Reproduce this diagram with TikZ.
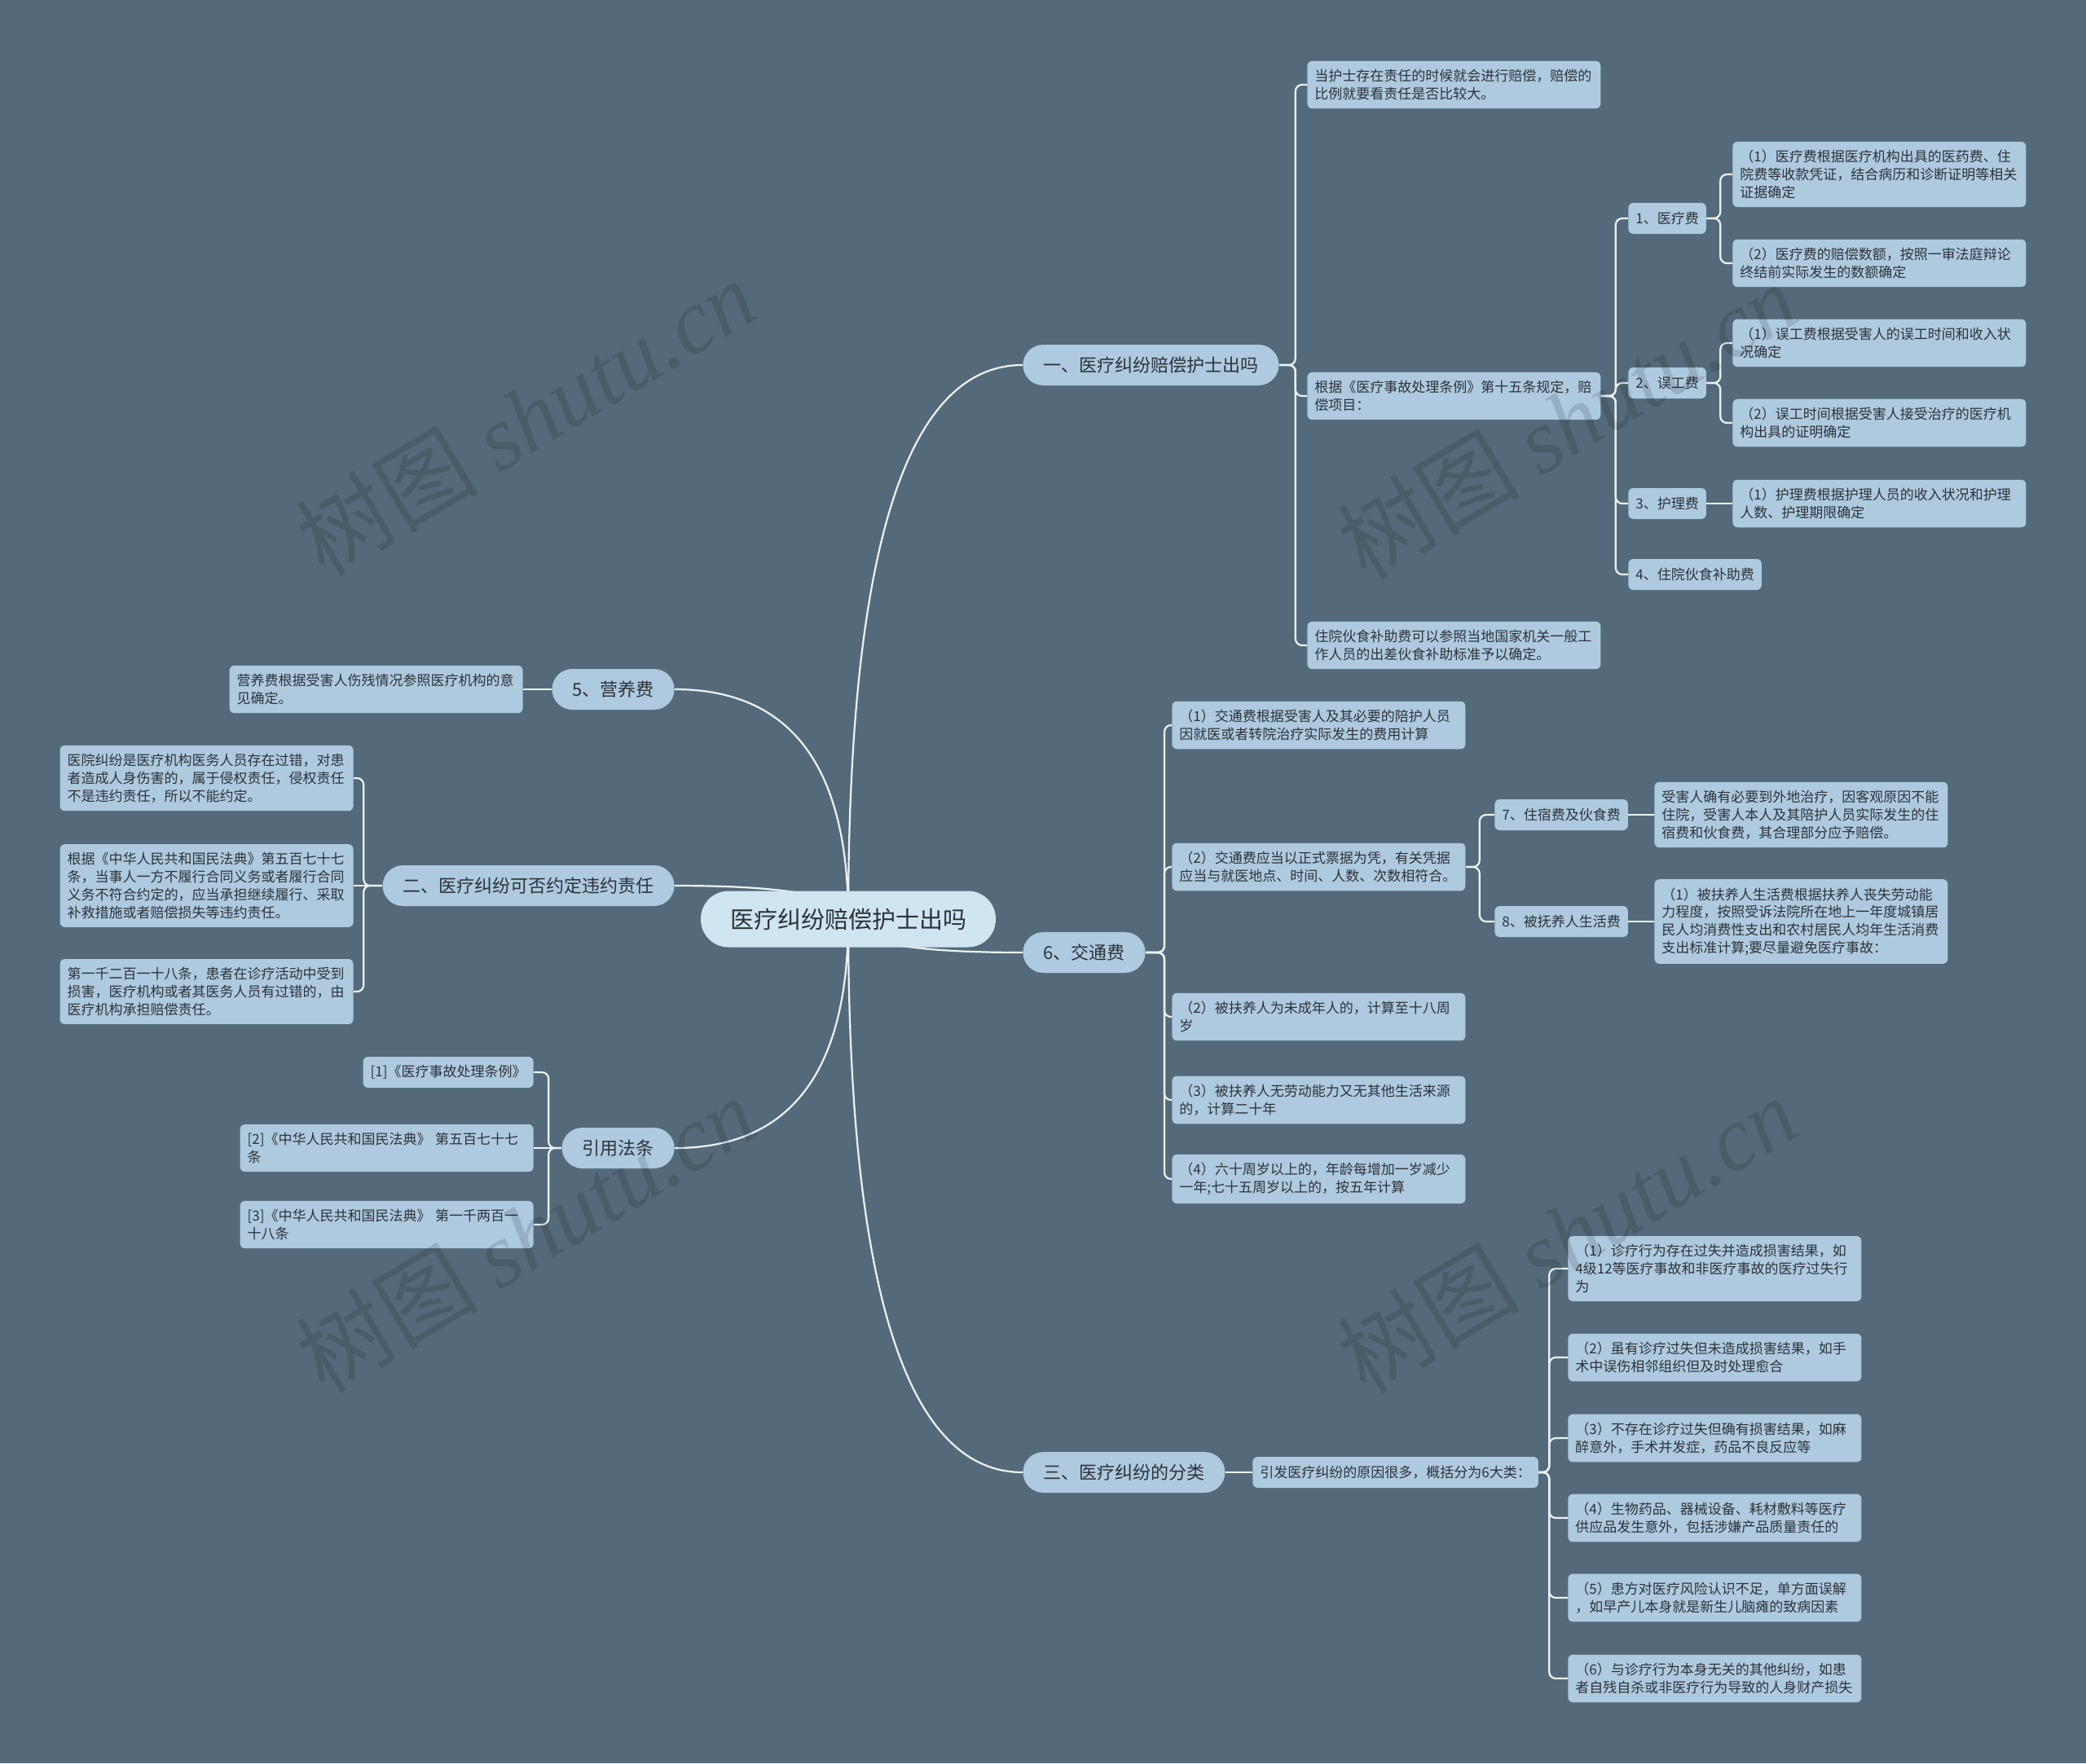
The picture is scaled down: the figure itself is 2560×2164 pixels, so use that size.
\documentclass[tikz,border=0pt]{standalone}
\usepackage{fontspec}
\setmainfont{Noto Sans CJK SC}
\newfontfamily\wmserif{Liberation Serif}
\usepackage{xcolor}
\usetikzlibrary{calc}
\definecolor{bgslate}{HTML}{546A7A}
\definecolor{boxblue}{HTML}{ADCADF}
\definecolor{rootblue}{HTML}{CFE5F2}
\definecolor{linkwhite}{HTML}{EAF3F9}
\definecolor{inkdark}{HTML}{2E3338}
\pgfdeclarelayer{bg}
\pgfdeclarelayer{links}
\pgfsetlayers{bg,links,main}

\begin{document}
\begin{tikzpicture}[x=0.5pt, y=-0.5pt,
  every node/.style={text=inkdark},
  rootnode/.style={fill=rootblue, rounded corners=17pt, minimum height=34.5pt, inner xsep=18pt, font=\fontsize{14.5pt}{17pt}\selectfont},
  topic/.style={fill=boxblue, rounded corners=12.5pt, minimum height=25pt, inner xsep=12.5pt, font=\fontsize{11pt}{13pt}\selectfont},
  tag/.style={fill=boxblue, rounded corners=3pt, minimum height=19pt, inner xsep=4.5pt, font=\fontsize{8.5pt}{10.85pt}\selectfont},
  note/.style={tag, text width=171pt, align=left, inner ysep=5.2pt, anchor=west},
  wmark/.style={rotate=31, text=black, opacity=0.13, font=\fontsize{56pt}{60pt}\selectfont},
  link/.style={draw=linkwhite, line width=1.1pt},
  elbow/.style={link, rounded corners=4pt},
  rootcurve/.style={to path={.. controls ($(\tikztostart)!0.667!(\tikztostart |- \tikztotarget)$) and ($(\tikztotarget)!0.667!(\tikztostart |- \tikztotarget)$) .. (\tikztotarget)}}
]
\useasboundingbox (0,0) rectangle (2560,2164);
\begin{pgfonlayer}{bg}
\fill[bgslate] (0,0) rectangle (2560,2164);
\end{pgfonlayer}

% centre and main topics
\node[rootnode] (root) at (1041,1128) {医疗纠纷赔偿护士出吗};
\node[topic, anchor=west] (one) at (1255,448) {一、医疗纠纷赔偿护士出吗};
\node[topic, anchor=west] (six) at (1255,1169) {6、交通费};
\node[topic, anchor=west] (three) at (1255,1807) {三、医疗纠纷的分类};
\node[topic, anchor=east] (five) at (828,846) {5、营养费};
\node[topic, anchor=east] (two) at (828,1087) {二、医疗纠纷可否约定违约责任};
\node[topic, anchor=east] (laws) at (828,1409) {引用法条};

% branch one
\node[note] (a1) at (1604,104) {当护士存在责任的时候就会进行赔偿，赔偿的\\比例就要看责任是否比较大。};
\node[note] (a2) at (1604,486) {根据《医疗事故处理条例》第十五条规定，赔\\偿项目：};
\node[note] (a3) at (1604,792) {住院伙食补助费可以参照当地国家机关一般工\\作人员的出差伙食补助标准予以确定。};
\node[tag, anchor=west] (t1) at (1998,268) {1、医疗费};
\node[tag, anchor=west] (t2) at (1998,470) {2、误工费};
\node[tag, anchor=west] (t3) at (1998,618) {3、护理费};
\node[tag, anchor=west] (t4) at (1998,705) {4、住院伙食补助费};
\node[note] (b1) at (2126,214) {（1）医疗费根据医疗机构出具的医药费、住\\院费等收款凭证，结合病历和诊断证明等相关\\证据确定};
\node[note] (b2) at (2126,323) {（2）医疗费的赔偿数额，按照一审法庭辩论\\终结前实际发生的数额确定};
\node[note] (c1) at (2126,421) {（1）误工费根据受害人的误工时间和收入状\\况确定};
\node[note] (c2) at (2126,519) {（2）误工时间根据受害人接受治疗的医疗机\\构出具的证明确定};
\node[note] (d1) at (2126,618) {（1）护理费根据护理人员的收入状况和护理\\人数、护理期限确定};

% branch six
\node[note] (g1) at (1438,890) {（1）交通费根据受害人及其必要的陪护人员\\因就医或者转院治疗实际发生的费用计算};
\node[note] (g2) at (1438,1064) {（2）交通费应当以正式票据为凭，有关凭据\\应当与就医地点、时间、人数、次数相符合。};
\node[note] (g3) at (1438,1248) {（2）被扶养人为未成年人的，计算至十八周\\岁};
\node[note] (g4) at (1438,1350) {（3）被扶养人无劳动能力又无其他生活来源\\的，计算二十年};
\node[note] (g5) at (1438,1447) {（4）六十周岁以上的，年龄每增加一岁减少\\一年;七十五周岁以上的，按五年计算};
\node[tag, anchor=west] (h1) at (1834,1000) {7、住宿费及伙食费};
\node[tag, anchor=west] (h2) at (1834,1131) {8、被抚养人生活费};
\node[note] (i1) at (2030,1000) {受害人确有必要到外地治疗，因客观原因不能\\住院，受害人本人及其陪护人员实际发生的住\\宿费和伙食费，其合理部分应予赔偿。};
\node[note] (i2) at (2030,1131) {（1）被扶养人生活费根据扶养人丧失劳动能\\力程度，按照受诉法院所在地上一年度城镇居\\民人均消费性支出和农村居民人均年生活消费\\支出标准计算;要尽量避免医疗事故：};

% branch three
\node[tag, anchor=west] (j) at (1537,1807) {引发医疗纠纷的原因很多，概括分为6大类：};
\node[note] (k1) at (1924,1557) {（1）诊疗行为存在过失并造成损害结果，如\\4级12等医疗事故和非医疗事故的医疗过失行\\为};
\node[note] (k2) at (1924,1666) {（2）虽有诊疗过失但未造成损害结果，如手\\术中误伤相邻组织但及时处理愈合};
\node[note] (k3) at (1924,1765) {（3）不存在诊疗过失但确有损害结果，如麻\\醉意外，手术并发症，药品不良反应等};
\node[note] (k4) at (1924,1863) {（4）生物药品、器械设备、耗材敷料等医疗\\供应品发生意外，包括涉嫌产品质量责任的};
\node[note] (k5) at (1924,1961) {（5）患方对医疗风险认识不足，单方面误解\\，如早产儿本身就是新生儿脑瘫的致病因素};
\node[note] (k6) at (1924,2060) {（6）与诊疗行为本身无关的其他纠纷，如患\\者自残自杀或非医疗行为导致的人身财产损失};

% left branches
\node[note, anchor=east] (p1) at (642,846) {营养费根据受害人伤残情况参照医疗机构的意\\见确定。};
\node[note, anchor=east] (e1) at (434,955) {医院纠纷是医疗机构医务人员存在过错，对患\\者造成人身伤害的，属于侵权责任，侵权责任\\不是违约责任，所以不能约定。};
\node[note, anchor=east] (e2) at (434,1087) {根据《中华人民共和国民法典》第五百七十七\\条，当事人一方不履行合同义务或者履行合同\\义务不符合约定的，应当承担继续履行、采取\\补救措施或者赔偿损失等违约责任。};
\node[note, anchor=east] (e3) at (434,1217) {第一千二百一十八条，患者在诊疗活动中受到\\损害，医疗机构或者其医务人员有过错的，由\\医疗机构承担赔偿责任。};
\node[tag, anchor=east] (f1) at (655,1316) {[1]《医疗事故处理条例》};
\node[note, anchor=east] (f2) at (655,1409) {[2]《中华人民共和国民法典》 第五百七十七\\条};
\node[note, anchor=east] (f3) at (655,1503) {[3]《中华人民共和国民法典》 第一千两百一\\十八条};

% connectors
\begin{pgfonlayer}{links}
\foreach \t in {one,six,three} \draw[link] (root.center) to[rootcurve] (\t.west);
\foreach \t in {five,two,laws} \draw[link] (root.center) to[rootcurve] (\t.east);
\foreach \c in {a1,a2,a3} \draw[elbow] (one.east) -- ++(20,0) |- (\c.west);
\foreach \c in {t1,t2,t3,t4} \draw[elbow] (a2.east) -- ++(18,0) |- (\c.west);
\foreach \c in {b1,b2} \draw[elbow] (t1.east) -- ++(17,0) |- (\c.west);
\foreach \c in {c1,c2} \draw[elbow] (t2.east) -- ++(17,0) |- (\c.west);
\draw[link] (t3) -- (d1);
\foreach \c in {g1,g2,g3,g4,g5} \draw[elbow] (six.east) -- ++(23,0) |- (\c.west);
\foreach \c in {h1,h2} \draw[elbow] (g2.east) -- ++(17,0) |- (\c.west);
\draw[link] (h1) -- (i1);
\draw[link] (h2) -- (i2);
\draw[link] (three) -- (j);
\foreach \c in {k1,k2,k3,k4,k5,k6} \draw[elbow] (j.east) -- ++(13,0) |- (\c.west);
\draw[link] (five) -- (p1);
\foreach \c in {e1,e3} \draw[elbow] (two.west) -- ++(-23,0) |- (\c.east);
\draw[link] (two) -- (e2);
\foreach \c in {f1,f3} \draw[elbow] (laws.west) -- ++(-16,0) |- (\c.east);
\draw[link] (laws) -- (f2);
\end{pgfonlayer}

% watermark
\node[wmark] (wm1) at (645,512) {树图 {\wmserif\itshape shutu.cn}};
\node[wmark] (wm2) at (1923,516) {树图 {\wmserif\itshape shutu.cn}};
\node[wmark] (wm3) at (645,1515) {树图 {\wmserif\itshape shutu.cn}};
\node[wmark] (wm4) at (1923,1515) {树图 {\wmserif\itshape shutu.cn}};
\end{tikzpicture}
\end{document}
